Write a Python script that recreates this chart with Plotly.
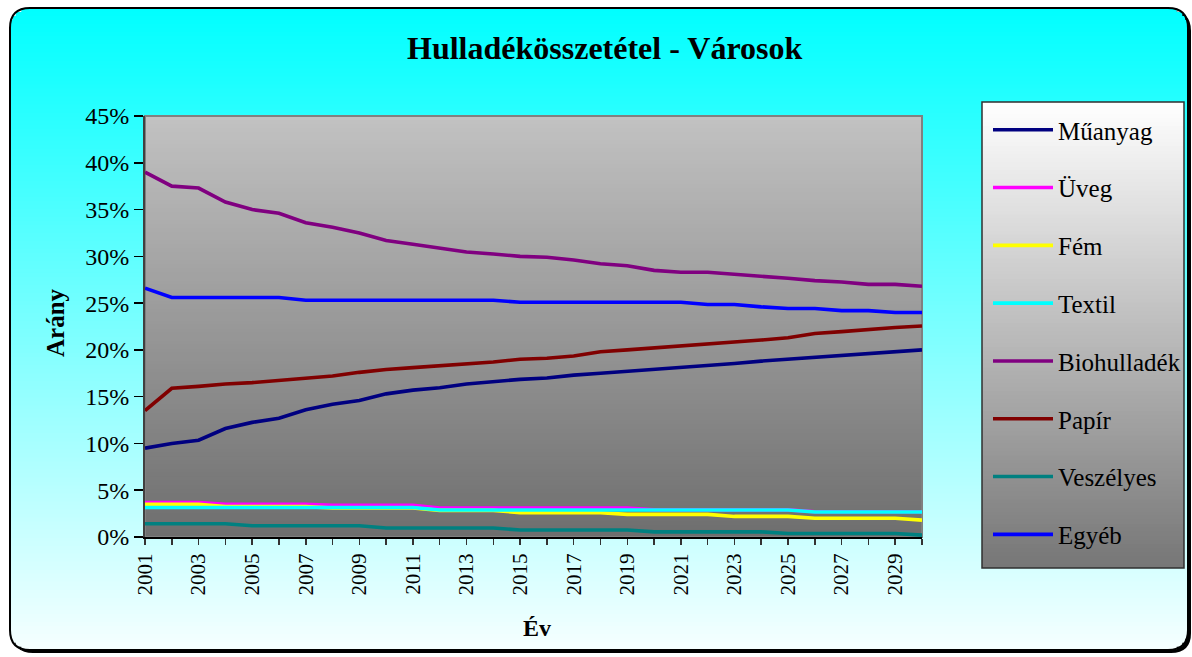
import math
import plotly.graph_objects as go

# ---------------- data ----------------
years = list(range(2001, 2031))
tick_labels = [str(y) if y % 2 == 1 else "" for y in years]

series_names = ["Műanyag", "Üveg", "Fém", "Textil", "Biohulladék", "Papír", "Veszélyes", "Egyéb"]
series_colors = ["#000080", "#FF00FF", "#FFFF00", "#00FFFF", "#800080", "#800000", "#008080", "#0000FF"]

muanyag = [9.5, 10.0, 10.35, 11.6, 12.25, 12.7, 13.6, 14.2, 14.6, 15.3, 15.7, 15.95, 16.35, 16.6, 16.85,
           17.0, 17.3, 17.5, 17.7, 17.95, 18.1, 18.35, 18.55, 18.8, 19.0, 19.2, 19.4, 19.6, 19.8, 20.0]
uveg = [3.67, 3.67, 3.67, 3.5, 3.5, 3.5, 3.5, 3.4, 3.4, 3.4, 3.4, 3.1, 3.1, 3.1, 3.1,
        3.1, 3.1, 3.1, 3.1, 2.9, 2.9, 2.9, 2.9, 2.9, 2.9, 2.7, 2.7, 2.7, 2.7, 2.7]
fem = [3.5, 3.5, 3.5, 3.25, 3.25, 3.25, 3.25, 3.1, 3.1, 3.1, 3.1, 2.85, 2.85, 2.85, 2.6,
       2.6, 2.6, 2.6, 2.42, 2.42, 2.42, 2.42, 2.2, 2.2, 2.2, 2.0, 2.0, 2.0, 2.0, 1.8]
textil = [3.15, 3.15, 3.15, 3.15, 3.15, 3.15, 3.15, 3.15, 3.15, 3.15, 3.15, 2.88, 2.88, 2.88, 2.88,
          2.88, 2.88, 2.88, 2.88, 2.88, 2.88, 2.88, 2.88, 2.88, 2.88, 2.67, 2.67, 2.67, 2.67, 2.67]
biohulladek = [39.0, 37.5, 37.3, 35.8, 35.0, 34.6, 33.6, 33.1, 32.5, 31.7, 31.3, 30.85, 30.46, 30.25, 30.0,
               29.9, 29.6, 29.2, 29.0, 28.5, 28.3, 28.3, 28.1, 27.9, 27.65, 27.4, 27.25, 27.0, 27.0, 26.8]
papir = [13.5, 15.9, 16.1, 16.35, 16.5, 16.75, 17.0, 17.2, 17.6, 17.9, 18.1, 18.3, 18.5, 18.7, 19.0,
         19.1, 19.35, 19.8, 20.0, 20.2, 20.45, 20.65, 20.8, 21.05, 21.3, 21.75, 21.95, 22.2, 22.4, 22.55]
veszelyes = [1.42, 1.42, 1.42, 1.42, 1.2, 1.2, 1.2, 1.2, 1.2, 0.96, 0.96, 0.96, 0.96, 0.96, 0.75,
             0.75, 0.75, 0.75, 0.75, 0.55, 0.55, 0.55, 0.55, 0.55, 0.37, 0.37, 0.37, 0.37, 0.37, 0.2]
egyeb = [26.6, 25.6, 25.6, 25.6, 25.6, 25.6, 25.3, 25.3, 25.3, 25.3, 25.3, 25.3, 25.3, 25.3, 25.1,
         25.1, 25.1, 25.1, 25.1, 25.1, 25.1, 24.85, 24.85, 24.6, 24.43, 24.43, 24.2, 24.2, 24.0, 24.0]

series_values = [muanyag, uveg, fem, textil, biohulladek, papir, veszelyes, egyeb]

# ---------------- layout geometry (pixels) ----------------
W, H = 1192, 657
L, R, T, B = 145, 922, 116, 537
FONT = "Liberation Serif"


def xp(x):
    return (x - L) / (R - L)


def yp(y):
    return (B - y) / (B - T)


def lerp(c0, c1, t):
    return "rgb(%d,%d,%d)" % tuple(round(a + (b - a) * t) for a, b in zip(c0, c1))


def vgrad(x0, y0, x1, y1, ctop, cbot, n, r=0):
    out = []
    for i in range(n):
        ya = y0 + (y1 - y0) * i / n
        yb = y0 + (y1 - y0) * (i + 1) / n
        yc = (ya + yb) / 2
        ins = 0
        if r > 0:
            if yc < y0 + r:
                d = y0 + r - yc
                ins = r - math.sqrt(max(r * r - d * d, 0))
            elif yc > y1 - r:
                d = yc - (y1 - r)
                ins = r - math.sqrt(max(r * r - d * d, 0))
        out.append(dict(type="rect", xref="paper", yref="paper", layer="below",
                        x0=xp(x0 + ins), x1=xp(x1 - ins), y0=yp(ya), y1=yp(min(yb + 0.8, y1)),
                        line=dict(width=0), fillcolor=lerp(ctop, cbot, (i + 0.5) / n)))
    return out


def rpath(x0, y0, x1, y1, r):
    pts = [
        ("M", [(x0 + r, y0)]), ("L", [(x1 - r, y0)]), ("Q", [(x1, y0), (x1, y0 + r)]),
        ("L", [(x1, y1 - r)]), ("Q", [(x1, y1), (x1 - r, y1)]), ("L", [(x0 + r, y1)]),
        ("Q", [(x0, y1), (x0, y1 - r)]), ("L", [(x0, y0 + r)]), ("Q", [(x0, y0), (x0 + r, y0)]),
    ]
    s = ""
    for cmd, ps in pts:
        s += cmd + " ".join("%.6f,%.6f" % (xp(a), yp(b)) for a, b in ps) + " "
    return s + "Z"


shapes = []
# outer frame: shadow, gradient, border
shapes.append(dict(type="path", xref="paper", yref="paper", layer="below",
                   path=rpath(13, 11, 1191, 653, 20), fillcolor="black", line=dict(width=0)))
shapes += vgrad(10, 8, 1188, 650, (0, 255, 255), (246, 255, 255), 160, r=20)
shapes.append(dict(type="path", xref="paper", yref="paper", layer="below",
                   path=rpath(10, 8, 1188, 650, 20), line=dict(color="black", width=2)))
# plot area gradient and border
shapes += vgrad(L, T, R, B, (194, 194, 194), (110, 110, 110), 105)
shapes.append(dict(type="rect", xref="paper", yref="paper", layer="below",
                   x0=0, x1=1, y0=0, y1=1, line=dict(color="#808080", width=2)))
# legend box gradient and border
shapes += vgrad(982, 102, 1184, 568, (255, 255, 255), (118, 118, 118), 116)
shapes.append(dict(type="rect", xref="paper", yref="paper", layer="below",
                   x0=xp(982), x1=xp(1184), y0=yp(568), y1=yp(102),
                   line=dict(color="#303030", width=1.5)))

fig = go.Figure()
for name, color, vals in zip(series_names, series_colors, series_values):
    fig.add_trace(go.Scatter(x=years, y=vals, name=name, mode="lines", legendgroup=name,
                             line=dict(color=color, width=3.6), hoverinfo="skip"))

annotations = [
    dict(text="<b>Hulladékösszetétel - Városok</b>", xref="paper", yref="paper",
         x=xp(604), y=yp(48), xanchor="center", yanchor="middle", showarrow=False,
         font=dict(family=FONT, size=32, color="black")),
    dict(text="<b>Arány</b>", xref="paper", yref="paper", textangle=-90,
         x=xp(55), y=yp(323), xanchor="center", yanchor="middle", showarrow=False,
         font=dict(family=FONT, size=25, color="black")),
    dict(text="<b>Év</b>", xref="paper", yref="paper",
         x=xp(537), y=yp(628), xanchor="center", yanchor="middle", showarrow=False,
         font=dict(family=FONT, size=24, color="black")),
]

fig.update_layout(
    width=W, height=H,
    margin=dict(l=L, r=W - R, t=T, b=H - B, autoexpand=False),
    paper_bgcolor="white", plot_bgcolor="rgba(0,0,0,0)",
    shapes=shapes, annotations=annotations,
    showlegend=True,
    legend=dict(x=xp(988), xanchor="left",
                yref="container", y=1 - 107 / H, yanchor="top",
                maxheight=520,
                bgcolor="rgba(0,0,0,0)", borderwidth=0,
                font=dict(family=FONT, size=25, color="black"),
                tracegroupgap=22.3, itemwidth=60, traceorder="grouped"),
    xaxis=dict(range=[2001, 2030], tickmode="array", tickvals=years, ticktext=tick_labels,
               tickangle=-90, ticks="outside", ticklen=6, tickcolor="#333", tickwidth=1.5,
               showgrid=False, zeroline=False, showline=True, linecolor="black", linewidth=2,
               tickfont=dict(family=FONT, size=21, color="black")),
    yaxis=dict(range=[0, 45], tickmode="linear", tick0=0, dtick=5, ticksuffix="%",
               ticks="outside", ticklen=9, tickcolor="black", tickwidth=1.5,
               showgrid=False, zeroline=False, showline=True, linecolor="#404040", linewidth=2,
               tickfont=dict(family=FONT, size=24, color="black")),
    hovermode=False,
)

fig.write_html("out.html", config={"displayModeBar": False, "staticPlot": True},
               post_script="document.body.style.margin='0';document.body.style.padding='0';"
                           "document.body.style.overflow='hidden';")
